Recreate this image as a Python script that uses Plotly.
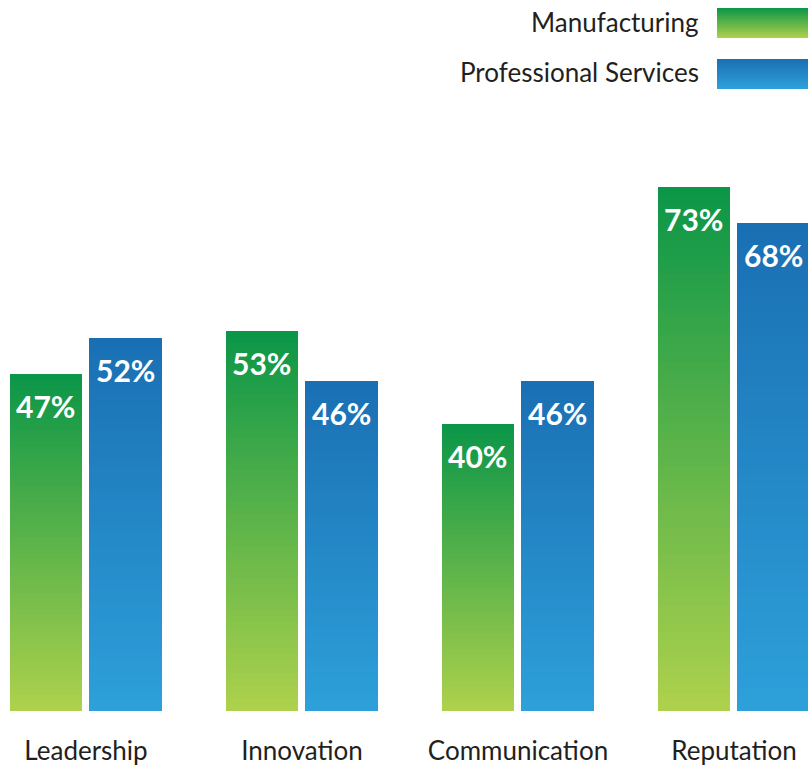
import plotly.graph_objects as go

# ---- data -------------------------------------------------------------
categories = ["Leadership", "Innovation", "Communication", "Reputation"]
series_names = ["Manufacturing", "Professional Services"]
manufacturing = [47, 53, 40, 73]
professional = [52, 46, 46, 68]

# ---- styling ----------------------------------------------------------
W, H = 808, 767
FONT = "Lato"
TEXT = "#231f20"
# gradient stops (top colour, bottom colour) per series
grad_green = ("#0a9648", "#aed14c")
grad_blue = ("#1a6fb3", "#2da0da")
N_STEPS = 60

M_TOP, M_BOT = 65, 56
Y_MAX = 90


def hex_to_rgb(h):
    h = h.lstrip("#")
    return tuple(int(h[i:i + 2], 16) for i in (0, 2, 4))


def mix(c_top, c_bot, t):
    """t = 0 at bottom, 1 at top."""
    a, b = hex_to_rgb(c_bot), hex_to_rgb(c_top)
    r = [round(a[i] + (b[i] - a[i]) * t) for i in range(3)]
    return "rgb(%d,%d,%d)" % tuple(r)


fig = go.Figure()

# each bar is built from thin stacked slices so it can carry a vertical gradient
bar_specs = [
    (manufacturing, grad_green, -0.352, 0.333),
    (professional, grad_blue, 0.014, 0.338),
]
for values, (c_top, c_bot), off, wid in bar_specs:
    for k in range(N_STEPS):
        t = (k + 0.5) / N_STEPS
        fig.add_trace(go.Bar(
            x=categories,
            y=[v / N_STEPS for v in values],
            base=[v * k / N_STEPS for v in values],
            offset=off,
            width=wid,
            marker=dict(color=mix(c_top, c_bot, t), line=dict(width=0)),
            hoverinfo="skip",
            showlegend=False,
        ))

# value labels inside the top of each bar
for values, off, wid in [(manufacturing, -0.352, 0.333), (professional, 0.014, 0.338)]:
    for i, v in enumerate(values):
        fig.add_annotation(
            x=i + off + wid / 2, y=v, xref="x", yref="y",
            text="%d%%" % v, showarrow=False,
            yanchor="middle", yshift=-32,
            font=dict(family=FONT, size=30, color="white", weight="bold"),
        )

# custom legend at the top right
plot_h = H - M_TOP - M_BOT


def py(pix):
    """pixel row -> paper y"""
    return (H - M_BOT - pix) / plot_h


legend_rows = [
    (series_names[0], grad_green, 8, 38, 22),
    (series_names[1], grad_blue, 59, 89, 72),
]
for name, (c_top, c_bot), y0, y1, yc in legend_rows:
    strips = 15
    for s in range(strips):
        a = y0 + (y1 - y0) * s / strips
        b = y0 + (y1 - y0) * (s + 1) / strips
        t = 1 - (s + 0.5) / strips
        fig.add_shape(
            type="rect", xref="paper", yref="paper",
            x0=717 / W, x1=1.0, y0=py(b), y1=py(a),
            fillcolor=mix(c_top, c_bot, t), line=dict(width=0), layer="above",
        )
    fig.add_annotation(
        x=701 / W, y=py(yc), xref="paper", yref="paper",
        text=name, showarrow=False, xanchor="right", yanchor="middle",
        font=dict(family=FONT, size=26, color=TEXT),
    )

fig.update_layout(
    width=W, height=H,
    margin=dict(l=0, r=0, t=M_TOP, b=M_BOT),
    paper_bgcolor="white", plot_bgcolor="white",
    barmode="overlay",
    bargap=0,
    showlegend=False,
    xaxis=dict(
        type="category", range=[-86 / 216, (W - 86) / 216],
        showgrid=False, zeroline=False, showline=False, ticks="",
        tickfont=dict(family=FONT, size=26, color=TEXT),
        ticklabelstandoff=22,
        fixedrange=True,
    ),
    yaxis=dict(
        range=[0, Y_MAX], visible=False, fixedrange=True,
    ),
)

fig.write_html("out.html")
